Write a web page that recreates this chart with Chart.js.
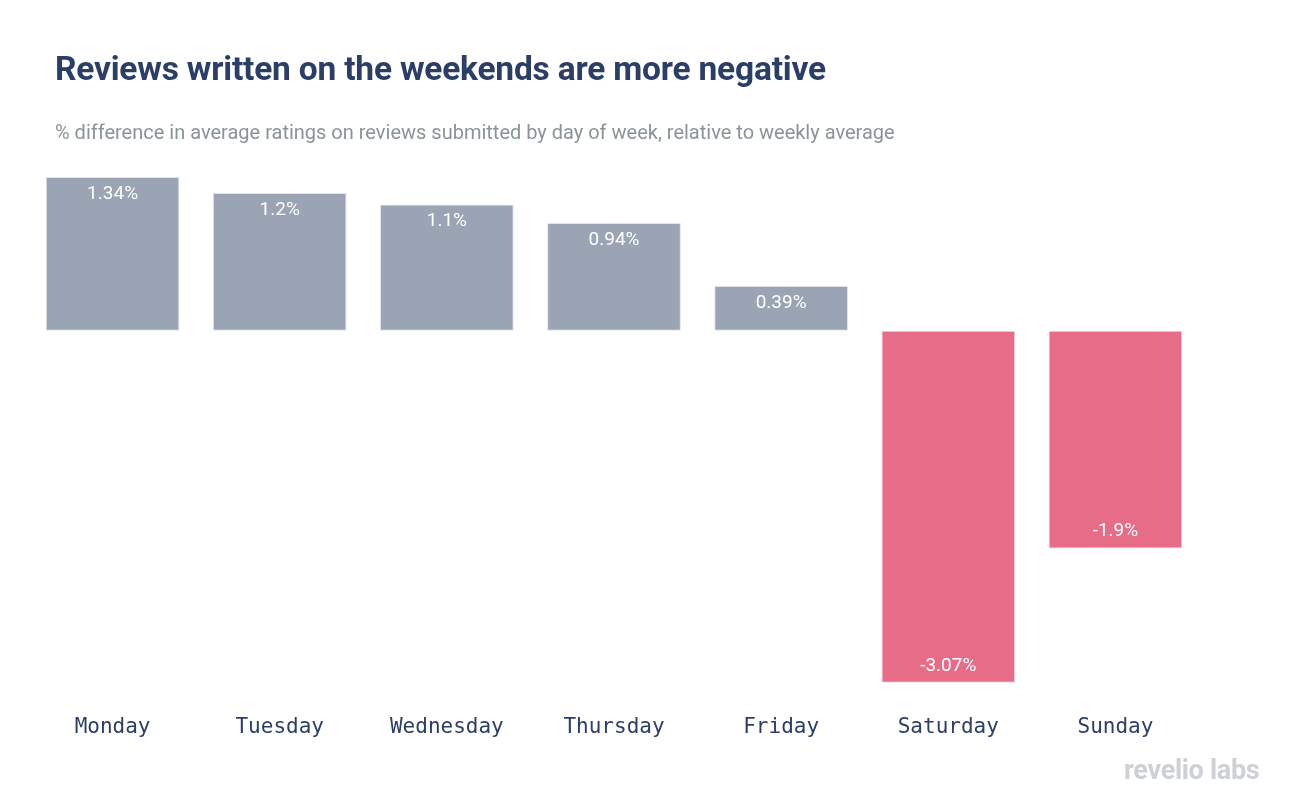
<!DOCTYPE html>
<html>
<head>
<meta charset="utf-8">
<script src="https://cdn.jsdelivr.net/npm/chart.js@4/dist/chart.umd.min.js"></script>
<style>
  html, body { margin: 0; padding: 0; background: #fff; }
  body { width: 1316px; height: 806px; position: relative; overflow: hidden; font-family: Roboto, "Noto Sans", sans-serif; }
  #title { position: absolute; left: 55px; top: 49px; font-size: 33.5px; font-weight: 700; color: #2b3e67; letter-spacing: -0.2px; }
  #subtitle { position: absolute; left: 55px; top: 120px; font-size: 20px; color: #8a9497; }
  #logo { position: absolute; left: 1124px; top: 754px; font-size: 27px; font-weight: 700; color: #cdd0d4; letter-spacing: -0.3px; }
  #wrap { position: absolute; left: 0; top: 0; width: 1316px; height: 806px; }
</style>
</head>
<body>
<div id="wrap"><canvas id="dayChart"></canvas></div>
<div id="title">Reviews written on the weekends are more negative</div>
<div id="subtitle">% difference in average ratings on reviews submitted by day of week, relative to weekly average</div>
<div id="logo">revelio labs</div>
<script>
const days = ["Monday", "Tuesday", "Wednesday", "Thursday", "Friday", "Saturday", "Sunday"];
const diffValues = [1.34, 1.2, 1.1, 0.94, 0.39, -3.07, -1.9];
const valueLabels = ["1.34%", "1.2%", "1.1%", "0.94%", "0.39%", "-3.07%", "-1.9%"];

const fillColors = diffValues.map(v => v < 0 ? "#e76c87" : "#9aa4b4");
const edgeColors = diffValues.map(v => v < 0 ? "#f0d3dc" : "#dfe3ea");

// draws the % text inside the end of each bar
const barValueLabels = {
    id: "barValueLabels",
    afterDatasetsDraw(chart) {
        const ctx = chart.ctx;
        const meta = chart.getDatasetMeta(0);
        ctx.save();
        ctx.fillStyle = "#ffffff";
        ctx.font = "19px Roboto";
        ctx.textAlign = "center";
        ctx.textBaseline = "middle";
        meta.data.forEach((bar, i) => {
            const y = diffValues[i] >= 0 ? bar.y + 17 : bar.y - 17;
            ctx.fillText(valueLabels[i], bar.x, y);
        });
        ctx.restore();
    }
};

new Chart(document.getElementById("dayChart"), {
    type: "bar",
    data: {
        labels: days,
        datasets: [{
            data: diffValues,
            backgroundColor: fillColors,
            borderColor: edgeColors,
            borderWidth: 1,
            borderSkipped: false,
            barPercentage: 0.8,
            categoryPercentage: 1
        }]
    },
    options: {
        responsive: true,
        maintainAspectRatio: false,
        animation: false,
        layout: {
            padding: { left: 29, right: 117, top: 177, bottom: 42 }
        },
        plugins: {
            legend: { display: false },
            tooltip: { enabled: false }
        },
        scales: {
            x: {
                grid: { display: false },
                border: { display: false },
                ticks: {
                    color: "#2b3e67",
                    padding: 24,
                    font: { family: "'DejaVu Sans Mono', 'Liberation Mono', monospace", size: 21 }
                }
            },
            y: {
                display: false,
                min: -3.07,
                max: 1.34
            }
        }
    },
    plugins: [barValueLabels]
});
</script>
</body>
</html>
